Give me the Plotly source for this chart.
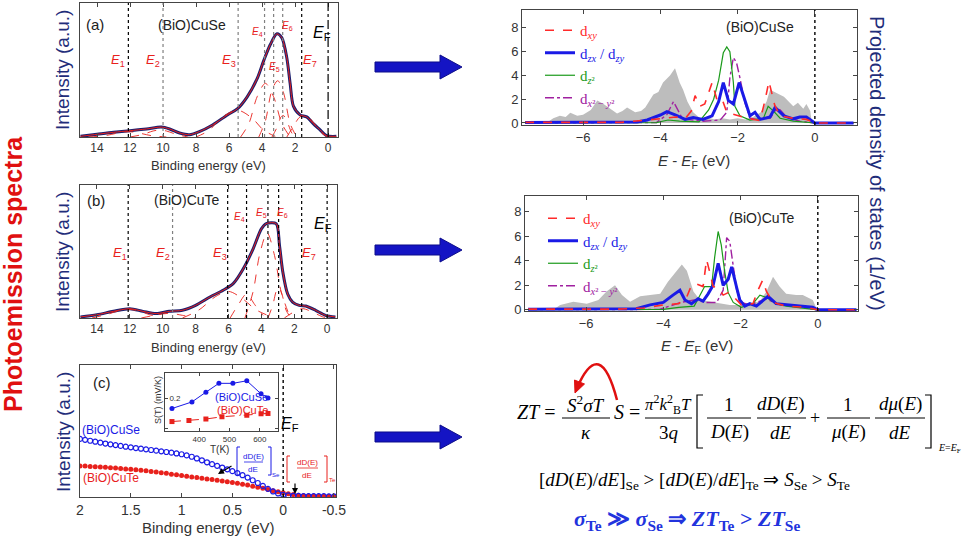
import plotly.graph_objects as go

W, H = 968, 538
SANS = "Liberation Sans, Arial, sans-serif"
SERIF = "Liberation Serif, Times New Roman, serif"
NAVY = "#1f2d7a"
AX = "#444444"
RED = "#e8211c"
BLUE = "#1a1ae6"

def px(x): return x / W
def py(y): return 1 - y / H

# ---------------- panel (a): (BiO)CuSe photoemission ----------------
be_a = [15.0, 14.0, 13.0, 12.0, 11.0, 10.1, 9.6, 9.0, 8.4, 7.8, 7.0, 6.1, 5.5, 4.9, 4.3, 3.9,
        3.5, 3.1, 2.8, 2.5, 2.3, 2.1, 1.7, 1.3, 0.9, 0.5, 0.1, -0.5]
int_a = [0.005, 0.02, 0.035, 0.047, 0.06, 0.074, 0.06, 0.03, 0.017, 0.04, 0.09, 0.165, 0.21, 0.30,
         0.435, 0.57, 0.69, 0.77, 0.74, 0.59, 0.40, 0.23, 0.165, 0.15, 0.10, 0.055, 0.01, 0.005]
comp_a_x = [[14.5, 13.5, 12.8, 12.1, 11.4, 10.7, 9.8],
            [12.0, 11.2, 10.6, 10.2, 9.8, 9.2, 8.5],
            [8.0, 7.2, 6.5, 5.5, 4.6, 3.9, 3.2],
            [5.3, 4.8, 4.3, 3.8, 3.3, 2.8, 2.3],
            [4.2, 3.8, 3.4, 3.05, 2.7, 2.3, 1.9],
            [3.4, 3.1, 2.85, 2.7, 2.5, 2.2, 2.0],
            [2.5, 2.1, 1.7, 1.3, 0.9, 0.4, 0.0]]
comp_a_y = [[0.0, 0.01, 0.028, 0.04, 0.028, 0.01, 0.0],
            [0.0, 0.02, 0.045, 0.052, 0.045, 0.02, 0.0],
            [0.0, 0.05, 0.14, 0.20, 0.14, 0.05, 0.005],
            [0.0, 0.10, 0.30, 0.40, 0.30, 0.10, 0.0],
            [0.0, 0.12, 0.35, 0.42, 0.33, 0.10, 0.0],
            [0.0, 0.07, 0.15, 0.16, 0.12, 0.03, 0.0],
            [0.0, 0.08, 0.15, 0.16, 0.11, 0.03, 0.0]]
lines_a = [12.1, 10.0, 5.45, 3.85, 3.3, 2.75, 1.6]
lines_a_col = ["black", "gray", "gray", "gray", "gray", "gray", "black"]
lab_a_x = [12.7, 10.6, 6.0, 4.3, 3.25, 2.45, 1.1]
lab_a_y = [0.57, 0.57, 0.57, 0.78, 0.52, 0.83, 0.57]

# ---------------- panel (b): (BiO)CuTe photoemission ----------------
be_b = [15.0, 14.0, 13.0, 12.0, 11.2, 10.4, 9.6, 8.8, 8.0, 7.1, 6.3, 5.7, 5.1, 4.5, 4.0, 3.7,
        3.1, 2.9, 2.7, 2.4, 2.1, 1.7, 1.3, 0.7, 0.1, -0.5]
int_b = [0.008, 0.025, 0.05, 0.07, 0.05, 0.033, 0.05, 0.058, 0.095, 0.16, 0.21, 0.26, 0.37, 0.52,
         0.67, 0.71, 0.71, 0.55, 0.35, 0.18, 0.12, 0.095, 0.09, 0.058, 0.02, 0.008]
comp_b_x = [[14.3, 13.3, 12.6, 12.1, 11.5, 10.8, 10.0],
            [11.3, 10.5, 9.6, 8.8, 8.0],
            [8.8, 7.8, 6.8, 6.0, 5.2, 4.3, 3.2],
            [5.9, 5.4, 4.9, 4.4, 3.9],
            [5.0, 4.5, 4.1, 3.65, 3.2, 2.8, 2.3],
            [3.6, 3.3, 3.1, 2.95, 2.75, 2.5, 2.2],
            [2.6, 2.1, 1.5, 0.9, 0.3, 0.0]]
comp_b_y = [[0.0, 0.03, 0.058, 0.065, 0.055, 0.025, 0.0],
            [0.0, 0.02, 0.035, 0.02, 0.0],
            [0.0, 0.06, 0.16, 0.20, 0.15, 0.06, 0.0],
            [0.0, 0.10, 0.18, 0.10, 0.02],
            [0.0, 0.20, 0.48, 0.64, 0.47, 0.20, 0.02],
            [0.0, 0.10, 0.20, 0.23, 0.18, 0.06, 0.0],
            [0.0, 0.04, 0.07, 0.045, 0.01, 0.0]]
lines_b = [12.1, 9.4, 6.05, 4.9, 3.6, 2.95, 1.55]
lines_b_col = ["black", "gray", "black", "black", "black", "black", "black"]
lab_b_x = [12.6, 10.0, 6.5, 5.3, 4.0, 2.7, 1.1]
lab_b_y = [0.485, 0.485, 0.485, 0.76, 0.79, 0.79, 0.485]
e_labels = ["<i>E</i><sub>1</sub>", "<i>E</i><sub>2</sub>", "<i>E</i><sub>3</sub>", "<i>E</i><sub>4</sub>",
            "<i>E</i><sub>5</sub>", "<i>E</i><sub>6</sub>", "<i>E</i><sub>7</sub>"]
e_sizes = [13, 13, 13, 10, 10, 10, 13]

# ---------------- panel (c): near-EF spectra ----------------
be_c = [2.0, 1.95, 1.9, 1.85, 1.8, 1.75, 1.7, 1.65, 1.6, 1.55, 1.5, 1.45, 1.4, 1.35, 1.3, 1.25, 1.2,
        1.15, 1.1, 1.05, 1.0, 0.95, 0.9, 0.85, 0.8, 0.75, 0.7, 0.65, 0.6, 0.55, 0.5, 0.45, 0.4, 0.35,
        0.3, 0.25, 0.2, 0.15, 0.1, 0.05, 0.0, -0.05, -0.1, -0.15, -0.2, -0.25, -0.3, -0.35, -0.4,
        -0.45, -0.5]
int_c_se = [0.44, 0.433, 0.426, 0.419, 0.412, 0.405, 0.399, 0.393, 0.387, 0.381, 0.376, 0.371, 0.366,
            0.361, 0.356, 0.351, 0.346, 0.341, 0.336, 0.330, 0.324, 0.315, 0.305, 0.292, 0.278, 0.263,
            0.249, 0.236, 0.223, 0.210, 0.196, 0.181, 0.165, 0.147, 0.127, 0.106, 0.084, 0.062, 0.042,
            0.027, 0.017, 0.012, 0.009, 0.008, 0.007, 0.007, 0.006, 0.006, 0.006, 0.005, 0.005]
int_c_te = [0.235, 0.234, 0.232, 0.230, 0.228, 0.225, 0.222, 0.219, 0.216, 0.213, 0.210, 0.207, 0.203,
            0.199, 0.194, 0.189, 0.184, 0.179, 0.173, 0.168, 0.162, 0.157, 0.152, 0.147, 0.142, 0.137,
            0.132, 0.127, 0.122, 0.116, 0.110, 0.104, 0.097, 0.090, 0.082, 0.074, 0.066, 0.057, 0.048,
            0.040, 0.032, 0.025, 0.018, 0.013, 0.010, 0.008, 0.007, 0.006, 0.006, 0.005, 0.005]
# inset: Seebeck coefficient
T_se = [310, 376, 422, 465, 511, 557, 604, 627]
S_se = [0.13, 0.174, 0.239, 0.298, 0.298, 0.315, 0.228, 0.20]
T_te = [310, 366, 422, 475, 557, 604, 627]
S_te = [0.043, 0.05, 0.06, 0.075, 0.085, 0.095, 0.097]

# ---------------- DOS (BiO)CuSe ----------------
tot_se_x = [-7.5, -6.95, -6.77, -6.6, -6.45, -6.33, -6.15, -6.0, -5.8, -5.63, -5.47, -5.3, -5.12, -4.98,
            -4.86, -4.65, -4.5, -4.39, -4.18, -4.05, -3.93, -3.75, -3.62, -3.5, -3.41, -3.3, -3.15,
            -2.97, -2.8, -2.6, -2.4, -2.2, -2.0, -1.8, -1.6, -1.4, -1.25, -1.16, -1.03, -0.92, -0.8,
            -0.68, -0.56, -0.44, -0.3, -0.22, -0.12, -0.08, 1.0]
tot_se_y = [0, 0, 0.4, 0.6, 0.5, 0.85, 0.6, 0.7, 1.1, 1.9, 1.6, 1.2, 0.8, 1.0, 1.3, 0.9, 1.0, 1.3, 2.4,
            2.6, 3.4, 4.0, 4.6, 3.4, 2.8, 1.8, 0.9, 0.4, 0.5, 0.3, 0.4, 0.3, 0.4, 0.3, 0.5, 0.9, 1.8,
            2.8, 2.6, 2.4, 2.2, 1.8, 1.4, 1.7, 1.2, 1.6, 1.0, 0, 0]
xy_se_x = [-7.5, -5.0, -4.34, -3.9, -3.6, -3.35, -3.2, -3.1, -2.98, -2.85, -2.66, -2.53, -2.4, -2.28,
           -1.98, -1.76, -1.42, -1.29, -1.19, -1.04, -0.9, -0.56, -0.22, 0.0, 1.0]
xy_se_y = [0.05, 0.05, 0.25, 0.4, 0.5, 0.4, 1.0, 2.3, 1.4, 1.6, 3.4, 1.9, 2.0, 0.9, 0.6, 0.4, 0.2, 1.9,
           3.5, 1.5, 0.6, 0.4, 0.3, 0.0, 0.0]
zx_se_x = [-7.5, -4.6, -4.34, -4.0, -3.83, -3.6, -3.36, -3.15, -2.9, -2.66, -2.49, -2.37, -2.24, -2.11,
           -1.96, -1.81, -1.68, -1.55, -1.42, -1.16, -1.03, -0.8, -0.56, -0.39, -0.22, 0.0, 1.0]
zx_se_y = [0.05, 0.08, 0.25, 0.67, 0.95, 0.67, 0.3, 0.45, 0.3, 0.6, 1.8, 3.4, 1.9, 1.6, 3.4, 1.8, 0.6,
           0.9, 0.3, 0.5, 1.3, 0.6, 0.35, 0.5, 0.5, 0.0, 0.0]
z2_se_x = [-7.5, -4.1, -3.8, -3.5, -3.0, -2.75, -2.62, -2.49, -2.37, -2.28, -2.2, -2.11, -2.07, -1.94,
           -1.68, -1.33, -1.21, -1.07, -0.9, -0.56, 0.0, 1.0]
z2_se_y = [0.02, 0.03, 0.25, 0.15, 0.1, 1.1, 2.0, 3.6, 5.9, 6.4, 6.0, 3.4, 1.4, 0.6, 0.25, 0.4, 1.4,
           1.0, 0.4, 0.15, 0.0, 0.0]
x2_se_x = [-7.5, -4.1, -3.83, -3.66, -3.45, -3.3, -2.9, -2.45, -2.28, -2.2, -2.11, -2.03, -1.94, -1.81,
           -1.68, -1.5, -1.16, -0.99, -0.9, -0.73, -0.39, 0.0, 1.0]
x2_se_y = [0.02, 0.03, 0.7, 1.8, 0.5, 0.3, 0.15, 0.25, 0.9, 3.8, 5.5, 5.1, 3.8, 1.7, 0.4, 0.3, 0.4,
           1.2, 1.1, 0.5, 0.15, 0.0, 0.0]

# ---------------- DOS (BiO)CuTe ----------------
tot_te_x = [-7.5, -6.85, -6.67, -6.33, -5.98, -5.68, -5.47, -5.25, -5.07, -4.86, -4.6, -4.34, -4.08,
            -3.88, -3.66, -3.52, -3.39, -3.22, -3.05, -2.71, -2.28, -1.85, -1.5, -1.33, -1.16, -0.99,
            -0.82, -0.56, -0.39, -0.13, -0.02, 1.0]
tot_te_y = [0, 0, 0.4, 0.65, 0.5, 0.8, 1.5, 2.0, 1.2, 0.65, 1.1, 1.2, 1.3, 2.3, 3.1, 3.7, 3.2, 1.5, 0.8,
            0.6, 0.4, 0.4, 0.7, 1.5, 2.7, 1.9, 1.3, 1.2, 1.2, 0.8, 0, 0]
xy_te_x = [-7.5, -5.2, -4.5, -4.0, -3.6, -3.4, -3.27, -3.14, -2.97, -2.88, -2.8, -2.71, -2.58, -2.45,
           -2.32, -2.19, -1.98, -1.68, -1.55, -1.43, -1.33, -1.16, -0.82, -0.3, 0.0, 1.0]
xy_te_y = [0.05, 0.05, 0.15, 0.4, 0.5, 1.0, 2.0, 2.1, 1.9, 4.1, 3.1, 1.9, 1.8, 1.2, 1.4, 1.1, 0.4, 0.5,
           1.6, 2.4, 1.5, 0.6, 0.3, 0.2, 0.0, 0.0]
zx_te_x = [-7.5, -4.7, -4.34, -4.0, -3.75, -3.57, -3.44, -3.27, -3.1, -2.97, -2.84, -2.71, -2.58, -2.45,
           -2.32, -2.23, -2.1, -2.02, -1.89, -1.76, -1.59, -1.29, -1.08, -0.82, -0.47, -0.13, 0.0, 1.0]
zx_te_y = [0.05, 0.08, 0.4, 0.6, 1.2, 1.6, 0.8, 0.5, 0.9, 0.7, 1.3, 2.0, 3.8, 2.0, 2.5, 3.5, 1.8, 0.8,
           0.3, 0.5, 0.3, 1.1, 0.5, 0.4, 0.3, 0.2, 0.0, 0.0]
z2_te_x = [-7.5, -4.0, -3.6, -3.2, -2.93, -2.75, -2.67, -2.58, -2.5, -2.41, -2.32, -2.19, -1.98, -1.68,
           -1.5, -1.33, -1.08, -0.82, 0.0, 1.0]
z2_te_y = [0.02, 0.03, 0.2, 0.3, 1.9, 1.9, 4.3, 6.4, 5.3, 3.1, 1.4, 0.6, 0.2, 0.5, 1.2, 1.0, 0.5, 0.3,
           0.0, 0.0]
x2_te_x = [-7.5, -4.1, -3.55, -3.2, -2.88, -2.62, -2.45, -2.36, -2.28, -2.19, -2.1, -1.98, -1.76, -1.33,
           -1.08, -0.73, 0.0, 1.0]
x2_te_y = [0.02, 0.03, 0.6, 0.8, 0.6, 0.6, 1.6, 5.9, 5.6, 3.7, 1.6, 0.6, 0.4, 0.9, 0.5, 0.3, 0.0, 0.0]

orb_names = ['<span style="color:#ff2a2a">d<sub><i>xy</i></sub></span>',
             '<span style="color:#1a1ae6">d<sub><i>zx</i></sub> / d<sub><i>zy</i></sub></span>',
             '<span style="color:#1a9a1a">d<sub><i>z</i>²</sub></span>',
             '<span style="color:#a020a0">d<sub><i>x</i>² − <i>y</i>²</sub></span>']

# ---------------- figure ----------------
fig = go.Figure()

def add_pes(be, inten, cx, cy, xa, ya):
    fig.add_trace(go.Scatter(x=be, y=inten, mode="lines", line=dict(color="#1b1f6e", width=3, shape="spline", smoothing=0.8),
                             xaxis=xa, yaxis=ya, showlegend=False))
    for xs, ys in zip(cx, cy):
        fig.add_trace(go.Scatter(x=xs, y=ys, mode="lines", line=dict(color=RED, width=0.9, dash="dash", shape="spline", smoothing=0.9),
                                 xaxis=xa, yaxis=ya, showlegend=False))
    fig.add_trace(go.Scatter(x=be, y=inten, mode="lines", line=dict(color=RED, width=1.0, shape="spline", smoothing=0.8),
                             xaxis=xa, yaxis=ya, showlegend=False))

add_pes(be_a, int_a, comp_a_x, comp_a_y, "x", "y")
add_pes(be_b, int_b, comp_b_x, comp_b_y, "x2", "y2")

# panel (c)
fig.add_trace(go.Scatter(x=be_c, y=int_c_te, mode="markers", marker=dict(symbol="circle", size=5, color=RED),
                         xaxis="x3", yaxis="y3", showlegend=False))
fig.add_trace(go.Scatter(x=be_c, y=int_c_se, mode="markers",
                         marker=dict(symbol="circle-open", size=5, color=BLUE, line=dict(width=1.2)),
                         xaxis="x3", yaxis="y3", showlegend=False))
# inset
fig.add_trace(go.Scatter(x=T_se, y=S_se, mode="lines+markers", line=dict(color=BLUE, width=1),
                         marker=dict(size=5, color=BLUE), xaxis="x4", yaxis="y4", showlegend=False))
fig.add_trace(go.Scatter(x=T_te, y=S_te, mode="lines+markers", line=dict(color=RED, width=1, dash="dash"),
                         marker=dict(size=5, color=RED, symbol="square"), xaxis="x4", yaxis="y4", showlegend=False))

def add_dos(tx, ty, sets, xa, ya, leg):
    fig.add_trace(go.Scatter(x=tx, y=ty, mode="lines", fill="tozeroy", fillcolor="#bdbdbd",
                             line=dict(width=0, color="#bdbdbd"), xaxis=xa, yaxis=ya, showlegend=False))
    styles = [dict(color="#a020a0", width=1.4, dash="dashdot"),
              dict(color="#1a9a1a", width=1.2),
              dict(color=BLUE, width=3),
              dict(color="#ff2a2a", width=1.6, dash="dash")]
    ranks = [4, 3, 2, 1]
    for (xs, ys), st, rk in zip(sets, styles, ranks):
        fig.add_trace(go.Scatter(x=xs, y=ys, mode="lines", line=st, name=orb_names[rk - 1], legendrank=rk,
                                 legend=leg, xaxis=xa, yaxis=ya, showlegend=True))

add_dos(tot_se_x, tot_se_y, [(x2_se_x, x2_se_y), (z2_se_x, z2_se_y), (zx_se_x, zx_se_y), (xy_se_x, xy_se_y)],
        "x5", "y5", "legend")
add_dos(tot_te_x, tot_te_y, [(x2_te_x, x2_te_y), (z2_te_x, z2_te_y), (zx_te_x, zx_te_y), (xy_te_x, xy_te_y)],
        "x6", "y6", "legend2")

def axis(x0, x1, rng, anchor, horizontal=True, **kw):
    d = dict(domain=[px(x0), px(x1)] if horizontal else [py(x1), py(x0)], range=rng, anchor=anchor,
             showline=True, linecolor=AX, linewidth=1, mirror="allticks", ticks="inside", ticklen=4,
             tickcolor=AX, showgrid=False, zeroline=False, automargin=False,
             tickfont=dict(family=SANS, size=13, color="#333"))
    d.update(kw)
    return d

noy = dict(showticklabels=False, ticks="")
be_ticks = dict(tickvals=[14, 12, 10, 8, 6, 4, 2, 0], tickfont=dict(family=SANS, size=12, color="#333"))
fig.update_layout(
    xaxis=axis(80, 338, [15.03, -0.6], "y", **be_ticks),
    yaxis=axis(3, 137, [0, 1.0], "x", horizontal=False, **noy),
    xaxis2=axis(80, 337, [15.03, -0.6], "y2", **be_ticks),
    yaxis2=axis(185, 318, [0, 1.0], "x2", horizontal=False, **noy),
    xaxis3=axis(80, 336, [2.0, -0.52], "y3", tickvals=[2, 1.5, 1, 0.5, 0, -0.5],
                ticktext=["2", "1.5", "1", "0.5", "0", "-0.5"], tickfont=dict(family=SANS, size=14, color="#333")),
    yaxis3=axis(365, 497, [0, 1.0], "x3", horizontal=False, **noy),
    xaxis4=axis(165, 278, [287, 660], "y4", tickvals=[300, 400, 500, 600], ticklen=3,
                tickfont=dict(family=SANS, size=8, color="#333")),
    yaxis4=axis(373, 431, [-0.02, 0.367], "x4", horizontal=False, tickvals=[0, 0.2], ticktext=["0", "0.2"],
                ticklabelposition="inside", ticklen=3, tickfont=dict(family=SANS, size=8, color="#333")),
    xaxis5=axis(522, 857, [-7.58, 1.09], "y5", tickvals=[-6, -4, -2, 0]),
    yaxis5=axis(10, 125, [-0.17, 9.5], "x5", horizontal=False, tickvals=[0, 2, 4, 6, 8]),
    xaxis6=axis(525, 858, [-7.58, 1.04], "y6", tickvals=[-6, -4, -2, 0]),
    yaxis6=axis(196, 311, [-0.1, 9.3], "x6", horizontal=False, tickvals=[0, 2, 4, 6, 8]),
)

shapes = []
# vertical guide lines in (a) and (b)
for xa, ya, vals, cols in [("x", "y", lines_a, lines_a_col), ("x2", "y2", lines_b, lines_b_col)]:
    for v, c in zip(vals, cols):
        shapes.append(dict(type="line", xref=xa, yref=ya + " domain", x0=v, x1=v, y0=0, y1=1,
                           line=dict(color=c, width=1.2, dash="dot")))
    shapes.append(dict(type="line", xref=xa, yref=ya + " domain", x0=0, x1=0, y0=0, y1=1,
                       line=dict(color="black", width=1.2, dash="dashdot" if xa == "x" else "dot")))
for xa, ya in [("x3", "y3"), ("x5", "y5"), ("x6", "y6")]:
    shapes.append(dict(type="line", xref=xa, yref=ya + " domain", x0=0, x1=0, y0=0, y1=1,
                       line=dict(color="black", width=1.4, dash="dot")))

# blue block arrows
def block_arrow(x0, x1, yc):
    pts = [(x0, yc - 5), (x1 - 22, yc - 5), (x1 - 22, yc - 12), (x1, yc), (x1 - 22, yc + 12),
           (x1 - 22, yc + 5), (x0, yc + 5)]
    p = "M " + " L ".join(f"{px(a):.5f},{py(b):.5f}" for a, b in pts) + " Z"
    return dict(type="path", xref="paper", yref="paper", path=p, fillcolor="#1414c4",
                line=dict(color="#0c0c8a", width=1))
for yc in [67, 250, 437]:
    shapes.append(block_arrow(375, 462, yc))

def hline(x0, x1, y, color="black", w=1.0):
    shapes.append(dict(type="line", xref="paper", yref="paper", x0=px(x0), x1=px(x1), y0=py(y), y1=py(y),
                       line=dict(color=color, width=w)))

def bracket(x0, x1, y0, y1, color, w=1.0):
    p = f"M {px(x1)},{py(y0)} L {px(x0)},{py(y0)} L {px(x0)},{py(y1)} L {px(x1)},{py(y1)}"
    shapes.append(dict(type="path", xref="paper", yref="paper", path=p, line=dict(color=color, width=w)))

# equation fraction bars and big brackets
for a, b in [(562, 610), (645, 692), (707, 751), (757, 806), (827, 870), (875, 925)]:
    hline(a, b, 418)
bracket(697, 703, 395, 448, "black", 1.2)
bracket(931, 925, 395, 448, "black", 1.2)
# (c) bracket boxes
bracket(237, 240, 447, 475, BLUE); bracket(271, 268, 447, 475, BLUE); hline(244, 263, 462, BLUE, 0.8)
bracket(287, 290, 456, 482, RED); bracket(327, 324, 456, 482, RED); hline(297, 318, 468, RED, 0.8)

# red curved arrow
P0, C, P2 = (617, 400), (600, 335), (577, 388)
shapes.append(dict(type="path", xref="paper", yref="paper",
                   path=f"M {px(P0[0])},{py(P0[1])} Q {px(C[0])},{py(C[1])} {px(P2[0])},{py(P2[1])}",
                   line=dict(color="#e01010", width=2.5)))
tri = [(575.0, 393.0), (584.5, 384.0), (574.5, 380.0)]
shapes.append(dict(type="path", xref="paper", yref="paper",
                   path="M " + " L ".join(f"{px(a)},{py(b)}" for a, b in tri) + " Z",
                   fillcolor="#e01010", line=dict(color="#e01010", width=1)))

annotations = []
def ann(x, y, text, size=13, color="#222", family=SANS, xanchor="center", angle=0, ref="paper", yanchor="middle"):
    if ref == "paper":
        xr, yr, xx, yy = "paper", "paper", px(x), py(y)
    else:
        xr, yr, xx, yy = ref[0], ref[1], x, y
    annotations.append(dict(x=xx, y=yy, xref=xr, yref=yr, text=text, showarrow=False, textangle=angle,
                            xanchor=xanchor, yanchor=yanchor, font=dict(family=family, size=size, color=color)))

# E labels
for xs, ys, ref in [(lab_a_x, lab_a_y, ("x", "y")), (lab_b_x, lab_b_y, ("x2", "y2"))]:
    for xv, yv, t, s in zip(xs, ys, e_labels, e_sizes):
        ann(xv, yv, t, size=s, color=RED, ref=ref)

EF = "<i>E</i><sub>F</sub>"
ann(95, 25, "(a)", 15); ann(192, 25, "(BiO)CuSe", 14); ann(322, 33, EF, 16, "black")
ann(96, 200, "(b)", 15); ann(187, 200, "(BiO)CuTe", 14); ann(323, 225, EF, 16, "black")
ann(102, 382, "(c)", 15); ann(290, 424, EF, 16, "black")
ann(80, 430, "(BiO)CuSe", 12, BLUE, xanchor="left"); ann(81, 478, "(BiO)CuTe", 12, RED, xanchor="left")
ann(241, 397, "(BiO)CuSe", 11, BLUE); ann(242, 410, "(BiO)CuTe", 11, RED)
ann(219, 449, "T(K)", 10, "#333"); ann(158, 400, "S(T) (mV/K)", 9, "#333", angle=-90)
ann(253, 456, "dD(E)", 8, BLUE); ann(253, 469, "dE", 8, BLUE); ann(276, 475, "Se", 6, BLUE)
ann(307, 462, "dD(E)", 8, RED); ann(307, 475, "dE", 8, RED); ann(332, 480, "Te", 6, RED)
annotations.append(dict(x=px(218), y=py(474), ax=15, ay=-9, xref="paper", yref="paper",
                        axref="pixel", ayref="pixel", text="", showarrow=True, arrowhead=2, arrowsize=1,
                        arrowwidth=1.2, arrowcolor="black"))
annotations.append(dict(x=px(295), y=py(494), ax=0, ay=-12, xref="paper", yref="paper",
                        axref="pixel", ayref="pixel", text="", showarrow=True, arrowhead=2, arrowsize=1,
                        arrowwidth=1.2, arrowcolor="black"))

ann(208, 165, "Binding energy (eV)", 13, "#333")
ann(208, 347, "Binding energy (eV)", 13, "#333")
ann(208, 527, "Binding energy (eV)", 15, "#333")
EEF = "<i>E</i> - <i>E</i><sub>F</sub> (eV)"
ann(694, 161, EEF, 15, "#333"); ann(697, 346, EEF, 15, "#333")
ann(760, 27, "(BiO)CuSe", 14, "#222"); ann(762, 218, "(BiO)CuTe", 14, "#222")

for yc in [70, 252, 432]:
    ann(63, yc, "Intensity (a.u.)", 19, NAVY, angle=-90)
ann(13, 274, "<b>Photoemission spectra</b>", 25, "#e01010", angle=-90)
ann(877, 163, "Projected density of states (1/eV)", 20, NAVY, angle=90)

# equations
ann(536, 412, "<i>ZT</i> =", 20, "black", SERIF)
ann(586, 404, "<i>S</i><sup>2</sup><i>σT</i>", 19, "black", SERIF)
ann(586, 432, "<i>κ</i>", 19, "black", SERIF)
ann(627, 412, "<i>S</i> =", 20, "black", SERIF)
ann(668, 404, "<i>π</i><sup>2</sup><i>k</i><sup>2</sup><sub>B</sub><i>T</i>", 17, "black", SERIF)
ann(669, 432, "3<i>q</i>", 19, "black", SERIF)
ann(729, 404, "1", 19, "black", SERIF); ann(729, 432, "<i>D</i>(<i>E</i>)", 19, "black", SERIF)
ann(781, 404, "<i>dD</i>(<i>E</i>)", 19, "black", SERIF); ann(781, 432, "<i>dE</i>", 19, "black", SERIF)
ann(815, 418, "+", 18, "black", SERIF)
ann(848, 404, "1", 19, "black", SERIF); ann(848, 432, "<i>μ</i>(<i>E</i>)", 19, "black", SERIF)
ann(900, 404, "<i>dμ</i>(<i>E</i>)", 19, "black", SERIF); ann(900, 432, "<i>dE</i>", 19, "black", SERIF)
ann(949, 448, "<i>E</i>=<i>E</i><sub>F</sub>", 10, "black", SERIF)
ann(694, 481, "[<i>dD</i>(<i>E</i>)/<i>dE</i>]<sub>Se</sub> > [<i>dD</i>(<i>E</i>)/<i>dE</i>]<sub>Te</sub>"
     " ⇒ <i>S</i><sub>Se</sub> > <i>S</i><sub>Te</sub>", 19, "black", SERIF)
ann(687, 520, "<b><i>σ</i><sub>Te</sub> ≫ <i>σ</i><sub>Se</sub> ⇒ <i>ZT</i><sub>Te</sub> > <i>ZT</i><sub>Se</sub></b>",
     22, "#2233dd", SERIF)

leg_common = dict(bgcolor="rgba(0,0,0,0)", font=dict(family=SERIF, size=15), tracegroupgap=0,
                  itemwidth=30, xanchor="left", yanchor="top", traceorder="normal")
fig.update_layout(
    width=W, height=H, margin=dict(l=0, r=0, t=0, b=0),
    paper_bgcolor="white", plot_bgcolor="white",
    shapes=shapes, annotations=annotations,
    legend=dict(x=px(540), y=py(14), **leg_common),
    legend2=dict(x=px(543), y=py(202), **leg_common),
    font=dict(family=SANS),
)

fig.write_html("out.html", config={"displayModeBar": False},
               post_script="document.body.style.margin='0';")
